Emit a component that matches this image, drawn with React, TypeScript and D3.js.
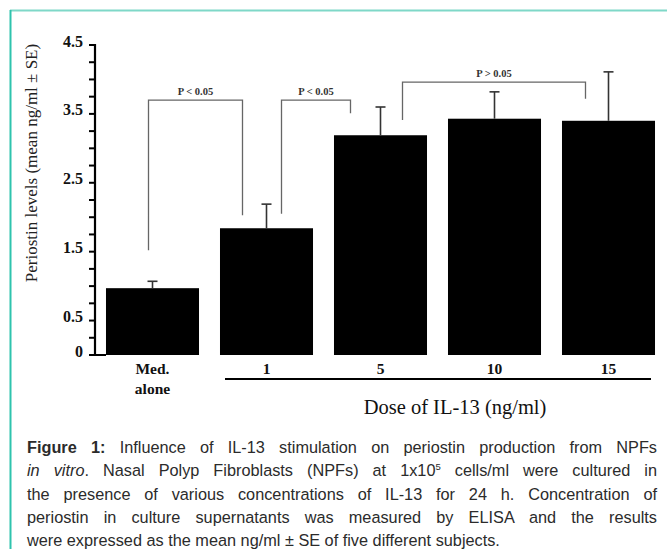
import React, { useEffect, useRef } from "react";
import { scaleBand, scaleLinear, range } from "d3";

// data
const categories = ["Med. alone", "1", "5", "10", "15"];
const means = [0.97, 1.84, 3.19, 3.43, 3.4];
const errTops = [1.07, 2.19, 3.6, 3.82, 4.11];
const yTickLabels = [0, 0.5, 1.5, 2.5, 3.5, 4.5];

// significance brackets: from / to category, top, leg bottoms, label
const brFrom = [0, 1, 2];
const brTo = [1, 2, 4];
const brTop = [3.7, 3.7, 3.96];
const brLeftEnd = [1.52, 2.05, 3.41];
const brRightEnd = [2.03, 3.51, 3.72];
const brLabels = ["P < 0.05", "P < 0.05", "P > 0.05"];

const captionLines = [
  "Figure 1:| Influence of IL-13 stimulation on periostin production from NPFs",
  "in vitro|. Nasal Polyp Fibroblasts (NPFs) at 1x10|5| cells/ml were cultured in",
  "the presence of various concentrations of IL-13 for 24 h. Concentration of",
  "periostin in culture supernatants was measured by ELISA and the results",
  "were expressed as the mean ng/ml ± SE of five different subjects.",
];

const W = 667;
const H = 549;

const App = () => {
  const capRefs = useRef<(SVGTextElement | null)[]>([]);

  const x = scaleBand()
    .domain(categories)
    .range([95.5, 665.5])
    .paddingInner(0.184)
    .paddingOuter(0.092);
  const y = scaleLinear().domain([0, 4.5]).range([355, 45]);
  const axisX = 95;
  const bw = x.bandwidth();
  const cx = (i: number) => (x(categories[i]) as number) + bw / 2;

  const capLeft = 27;
  const capRight = 657;

  useEffect(() => {
    capRefs.current.forEach((el, i) => {
      if (!el || i === captionLines.length - 1) return;
      el.setAttribute("word-spacing", "0");
      const len = el.getComputedTextLength();
      const spaces = (el.textContent || "").split(" ").length - 1;
      if (spaces > 0) {
        el.setAttribute("word-spacing", String((capRight - capLeft - len) / spaces));
      }
    });
  }, []);

  const yTicks = range(0, 4.5001, 0.25);

  const bars = means.map((m, i) => (
    <rect
      key={categories[i]}
      x={x(categories[i])}
      y={y(m)}
      width={bw}
      height={y(0) - y(m)}
      fill="#000"
    />
  ));

  const errors = means.map((m, i) => (
    <g key={"e" + i} stroke="#333" strokeWidth={1.6}>
      <line x1={cx(i)} x2={cx(i)} y1={y(m)} y2={y(errTops[i])} />
      <line x1={cx(i) - 5} x2={cx(i) + 5} y1={y(errTops[i])} y2={y(errTops[i])} />
    </g>
  ));

  const leftOff = [-4, 15, 22];
  const rightOff = [-24, -30, -23];
  const brackets = brFrom.map((f, i) => {
    const x1 = cx(f) + leftOff[i];
    const x2 = cx(brTo[i]) + rightOff[i];
    return (
      <g key={"b" + i}>
        <path
          d={`M${x1},${y(brLeftEnd[i])}V${y(brTop[i])}H${x2}V${y(brRightEnd[i])}`}
          fill="none"
          stroke="#666"
          strokeWidth={1.3}
        />
        <text
          x={(x1 + x2) / 2}
          y={y(brTop[i]) - 5}
          textAnchor="middle"
          fontFamily="Liberation Serif, serif"
          fontWeight="bold"
          fontSize={10.5}
          fill="#333"
        >
          {brLabels[i]}
        </text>
      </g>
    );
  });

  const renderCaption = (line: string, i: number) => {
    const parts = line.split("|");
    let content: React.ReactNode;
    if (i === 0) {
      content = (
        <>
          <tspan fontWeight="bold">{parts[0]}</tspan>
          {parts[1]}
        </>
      );
    } else if (i === 1) {
      content = (
        <>
          <tspan fontStyle="italic">{parts[0]}</tspan>
          {parts[1]}
          <tspan fontSize={9.5} dy={-6}>{parts[2]}</tspan>
          <tspan dy={6}>{parts[3]}</tspan>
        </>
      );
    } else content = line;
    return (
      <text
        key={"c" + i}
        ref={(el) => {
          capRefs.current[i] = el;
        }}
        x={capLeft}
        y={453 + i * 23.3}
        fontFamily="Liberation Sans, Arial, sans-serif"
        fontSize={16.3}
        fill="#2b2b2b"
      >
        {content}
      </text>
    );
  };

  return (
    <svg
      width={W}
      height={H}
      viewBox={`0 0 ${W} ${H}`}
      style={{ position: "absolute", left: 0, top: 0, background: "#fff" }}
    >
      {/* frame */}
      <line x1={10} x2={W} y1={10.5} y2={10.5} stroke="#7fd8c8" strokeWidth={2} />
      <line x1={10.5} x2={10.5} y1={10} y2={H} stroke="#2ec3ad" strokeWidth={2} />

      {bars}
      {errors}
      {brackets}

      {/* y axis */}
      <line x1={axisX} x2={axisX} y1={y(4.5) - 1} y2={y(0) + 1} stroke="#000" strokeWidth={2.2} />
      <line x1={axisX} x2={x(categories[0]) as number} y1={y(0)} y2={y(0)} stroke="#000" strokeWidth={2} />
      {yTicks.map((t) => (
        <line key={t} x1={axisX - 6} x2={axisX} y1={y(t)} y2={y(t)} stroke="#000" strokeWidth={2} />
      ))}
      {yTickLabels.map((t) => (
        <text
          key={"l" + t}
          x={83}
          y={y(t)}
          dy="0.1em"
          textAnchor="end"
          fontFamily="Liberation Serif, serif"
          fontWeight="bold"
          fontSize={16}
          fill="#111"
        >
          {t}
        </text>
      ))}
      <text
        transform={`translate(37,163) rotate(-90)`}
        textAnchor="middle"
        fontFamily="Liberation Serif, serif"
        fontSize={17}
        fill="#222"
      >
        Periostin levels (mean ng/ml ± SE)
      </text>

      {/* x labels */}
      {categories.map((c, i) =>
        i === 0 ? (
          <text
            key={c}
            x={cx(i)}
            textAnchor="middle"
            fontFamily="Liberation Serif, serif"
            fontWeight="bold"
            fontSize={15.5}
            fill="#111"
          >
            <tspan x={cx(i)} y={374}>Med.</tspan>
            <tspan x={cx(i)} y={394}>alone</tspan>
          </text>
        ) : (
          <text
            key={c}
            x={cx(i)}
            y={374}
            textAnchor="middle"
            fontFamily="Liberation Serif, serif"
            fontWeight="bold"
            fontSize={15.5}
            fill="#111"
          >
            {c}
          </text>
        )
      )}
      <line x1={225} x2={651} y1={379} y2={379} stroke="#000" strokeWidth={2} />
      <text
        x={455}
        y={414}
        textAnchor="middle"
        fontFamily="Liberation Serif, serif"
        fontSize={20.5}
        fill="#111"
      >
        Dose of IL-13 (ng/ml)
      </text>

      {captionLines.map(renderCaption)}
    </svg>
  );
};

export default App;
